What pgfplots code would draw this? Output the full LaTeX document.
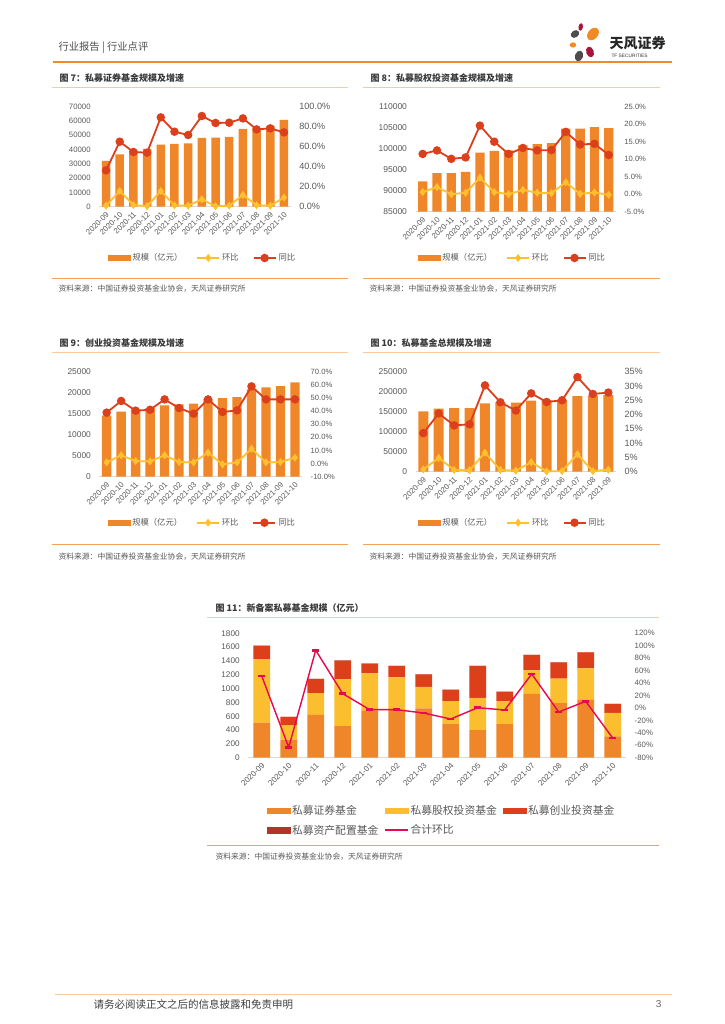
\documentclass[border=0pt]{standalone}
\usepackage{pgfplots}
\pgfplotsset{compat=1.18}
\usepackage{pgfplotstable}
\usepackage{fontspec}
\setmainfont{Liberation Sans}
\newfontfamily\cjk{Noto Sans CJK SC}

\definecolor{cOr}{HTML}{F0862A}
\definecolor{cYel}{HTML}{FFC02E}
\definecolor{cRed}{HTML}{DC3F1C}
\definecolor{cEq}{HTML}{FBBE2E}
\definecolor{cVc}{HTML}{DE3F1B}
\definecolor{cAa}{HTML}{B0352A}
\definecolor{cTot}{HTML}{E8084F}
\definecolor{tickc}{HTML}{595959}
\definecolor{titc}{HTML}{3A3A3A}
\definecolor{axc}{HTML}{D9D9D9}
\definecolor{lineLt}{HTML}{F9C99A}
\definecolor{lineOr}{HTML}{F4A25A}
\definecolor{hdrOr}{HTML}{F08A24}
\definecolor{logoGray}{HTML}{4D4D4D}
\definecolor{logoRed}{HTML}{A8153C}

\pgfplotsset{
  every axis/.append style={/pgf/number format/assume math mode=true,
    /pgf/number format/1000 sep={}, /pgf/number format/fixed, /pgf/number format/precision=0},
  baraxis/.style={scale only axis, anchor=south west,
    axis x line*=bottom, axis y line*=left,
    x axis line style={draw=axc,line width=0.8pt}, y axis line style={draw=none},
    major tick length=0pt, scaled y ticks=false,
    tick label style={text=tickc},
    yticklabel style={xshift=-5pt},
    xticklabel style={font=\fontsize{7.8}{9}\selectfont, xshift=4pt, yshift=-4pt, rotate=45, anchor=east}},
  lineaxis/.style={scale only axis, anchor=south west, axis x line=none,
    axis y line*=right, y axis line style={draw=none}, major tick length=0pt,
    tick label style={text=tickc}, yticklabel style={xshift=5pt}, clip=false,
    legend columns=3,
    legend image code/.code={\draw[mark repeat=2,mark phase=2,##1] plot coordinates {(0pt,0pt)(11pt,0pt)(22pt,0pt)};},
    legend style={draw=none, fill=none, font=\cjk\fontsize{8.3}{9}\selectfont, text=tickc,
      anchor=center, inner sep=0pt, /tikz/every even column/.append style={column sep=12pt}}},
}

\pgfplotstableread{
i v hb yoy
0 32000 1.0 36.3
1 36600 15.7 65.0
2 39500 1.7 54.7
3 40500 0.5 54.0
4 43400 15.7 89.3
5 43900 1.3 75.0
6 44300 1.0 71.7
7 48100 7.3 90.7
8 48300 0.5 83.7
9 48800 1.0 84.0
10 54400 11.7 88.3
11 55000 1.5 77.3
12 56500 1.0 78.3
13 60700 9.0 74.3
}\tabA

\pgfplotstableread{
i v hb yoy
0 92200 0.6 11.5
1 94200 2.0 12.5
2 94200 0.0 10.1
3 94500 0.4 10.5
4 99050 4.7 19.6
5 99450 0.6 15.0
6 99600 0.0 11.5
7 100800 1.2 13.2
8 101100 0.4 12.5
9 101350 0.3 12.6
10 104750 3.4 17.8
11 104750 0.1 14.2
12 105150 0.5 14.4
13 104900 -0.2 11.2
}\tabB

\pgfplotstableread{
i v hb yoy
0 14520 0.9 38.8
1 15480 6.3 47.7
2 16000 1.9 40.3
3 16300 1.7 41.0
4 16980 6.3 48.9
5 17220 1.2 42.3
6 17380 0.9 38.0
7 18500 8.3 48.9
8 18730 -0.6 39.3
9 18970 0.9 40.5
10 20800 11.3 58.8
11 21270 0.9 48.9
12 21590 1.2 48.9
13 22460 4.5 48.9
}\tabC

\pgfplotstableread{
i v hb yoy
0 150800 0.8 13.5
1 157500 4.8 20.4
2 159200 0.6 16.2
3 159200 0.5 16.6
4 170800 6.65 30.2
5 174000 0.6 24.3
6 172500 0.35 21.4
7 177500 3.3 27.4
8 179000 0.1 24.4
9 180000 0.2 25.0
10 189200 6.1 33.1
11 190800 0.2 27.2
12 191500 0.7 27.7
}\tabD

\pgfplotstableread{
i sec eq vc aa tot
0 507 917 193 3 51.4
1 261 212 116 2 -63.4
2 618 318 203 3 92.7
3 463 671 265 8 23.0
4 685 536 140 2 -2.8
5 690 473 164 3 -2.8
6 714 309 183 3 -8.2
7 492 328 164 2 -17.8
8 400 464 463 3 0.4
9 487 329 139 2 -3.3
10 922 342 222 3 54.6
11 791 353 236 3 -6.5
12 835 458 232 3 10.6
13 309 338 130 2 -48.4
}\tabE

\def\monthsA{2020-09,2020-10,2020-11,2020-12,2021-01,2021-02,2021-03,2021-04,2021-05,2021-06,2021-07,2021-08,2021-09,2021-10}
\def\monthsB{2020-09,2020-10,2020-11,2020-12,2021-01,2021-02,2021-03,2021-04,2021-05,2021-06,2021-07,2021-08,2021-09}
\def\src{资料来源：中国证券投资基金业协会，天风证券研究所}

\begin{document}
\begin{tikzpicture}
\useasboundingbox[fill=white] (0pt,0pt) rectangle (724pt,1024pt);

% header
\begin{scope}[x=1pt,y=1pt]
\node[anchor=west, font=\cjk\fontsize{10.3}{12}\selectfont, text=black!70] at (55,1024-48) {行业报告 \textbar{} 行业点评};
\draw[hdrOr, line width=1.2pt] (53,1024-62) -- (672,1024-62);
\fill[logoGray, rotate around={35:(575,1024-34)}] (575,1024-34) ellipse (4.5pt and 3.5pt);
\fill[logoRed, rotate around={-10:(580.7,1024-27)}] (580.7,1024-27) ellipse (2.2pt and 3.8pt);
\fill[hdrOr, rotate around={-40:(593,1024-34)}] (593,1024-34) ellipse (5pt and 7pt);
\fill[hdrOr] (573,1024-45) ellipse (3.2pt and 2.6pt);
\fill[logoGray, rotate around={-20:(579,1024-56)}] (579,1024-56) ellipse (4pt and 5.5pt);
\fill[logoRed, rotate around={20:(590,1024-52)}] (590,1024-52) ellipse (3.8pt and 5.5pt);
\node[anchor=west, font=\cjk\bfseries\fontsize{14}{15}\selectfont, text=black!85] at (606,1024-43) {天风证券};
\node[anchor=west, font=\fontsize{4.8}{5}\selectfont, text=black!80] at (608,1024-56) {TF SECURITIES};

% titles, rules, sources
\node[anchor=west, font=\cjk\bfseries\fontsize{9}{10}\selectfont, text=titc] at (56,1024-78.5) {图 7：私募证券基金规模及增速};
\node[anchor=west, font=\cjk\bfseries\fontsize{9}{10}\selectfont, text=titc] at (367,1024-78.5) {图 8：私募股权投资基金规模及增速};
\node[anchor=west, font=\cjk\bfseries\fontsize{9}{10}\selectfont, text=titc] at (56,1024-343.3) {图 9：创业投资基金规模及增速};
\node[anchor=west, font=\cjk\bfseries\fontsize{9}{10}\selectfont, text=titc] at (367,1024-343.3) {图 10：私募基金总规模及增速};
\node[anchor=west, font=\cjk\bfseries\fontsize{9}{10}\selectfont, text=titc] at (212,1024-608) {图 11：新备案私募基金规模（亿元）};
\draw[lineLt, line width=1.2pt] (52,1024-87.7) -- (348,1024-87.7);
\draw[lineLt, line width=1.2pt] (363,1024-87.7) -- (660,1024-87.7);
\draw[lineLt, line width=1.2pt] (52,1024-352.7) -- (348,1024-352.7);
\draw[lineLt, line width=1.2pt] (363,1024-352.7) -- (660,1024-352.7);
\draw[lineLt, line width=1.2pt] (207,1024-617.7) -- (659,1024-617.7);
\draw[lineOr, line width=1pt] (52,1024-278.3) -- (348,1024-278.3);
\draw[lineOr, line width=1pt] (363,1024-278.3) -- (660,1024-278.3);
\draw[lineOr, line width=1pt] (52,1024-545) -- (348,1024-545);
\draw[lineOr, line width=1pt] (363,1024-545) -- (660,1024-545);
\draw[lineOr, line width=1pt] (207,1024-846) -- (659,1024-846);
\node[anchor=west, font=\cjk\fontsize{7.8}{9}\selectfont, text=tickc] at (55,1024-289) {\src};
\node[anchor=west, font=\cjk\fontsize{7.8}{9}\selectfont, text=tickc] at (366,1024-289) {\src};
\node[anchor=west, font=\cjk\fontsize{7.8}{9}\selectfont, text=tickc] at (55,1024-557) {\src};
\node[anchor=west, font=\cjk\fontsize{7.8}{9}\selectfont, text=tickc] at (366,1024-557) {\src};
\node[anchor=west, font=\cjk\fontsize{7.8}{9}\selectfont, text=tickc] at (212,1024-857) {\src};

% footer
\draw[lineLt, line width=1pt] (55,1024-995) -- (672,1024-995);
\node[anchor=west, font=\cjk\fontsize{10.5}{12}\selectfont, text=black!75] at (90,1024-1004) {请务必阅读正文之后的信息披露和免责申明};
\node[anchor=east, font=\fontsize{10}{12}\selectfont, text=black!60] at (665,1024-1004) {3};
\end{scope}

% ---- chart 7
\begin{axis}[baraxis, ybar, at={(99.2pt,817.3pt)}, width=191.6pt, height=100pt,
  xmin=-0.5, xmax=13.5, ymin=0, ymax=70000, ytick={0,10000,...,70000},
  xtick={0,...,13}, xticklabels/.expand once=\monthsA, bar width=8.5pt,
  yticklabel style={font=\fontsize{7.8}{9}\selectfont}]
\addplot[fill=cOr, draw=none] table[x=i,y=v] {\tabA};
\end{axis}
\begin{axis}[lineaxis, at={(99.2pt,817.3pt)}, width=191.6pt, height=100pt,
  xmin=-0.5, xmax=13.5, ymin=0, ymax=100, ytick={0,20,40,60,80,100},
  yticklabels={0.0\%,20.0\%,40.0\%,60.0\%,80.0\%,100.0\%},
  yticklabel style={font=\fontsize{9.1}{10}\selectfont},
  legend style={at={(0.54,-0.513)}}]
\addlegendimage{legend image code/.code={\fill[cOr] (0pt,-2.6pt) rectangle (22pt,2.6pt);}}
\addlegendentry{规模（亿元）}
\addplot[cYel, line width=1.8pt, mark=diamond*, mark size=2.6pt] table[x=i,y=hb] {\tabA};
\addlegendentry{环比}
\addplot[cRed, line width=1.8pt, mark=*, mark size=3.3pt] table[x=i,y=yoy] {\tabA};
\addlegendentry{同比}
\end{axis}

% ---- chart 8
\begin{axis}[baraxis, ybar, at={(415.5pt,812.3pt)}, width=200.4pt, height=105pt,
  xmin=-0.5, xmax=13.5, ymin=85000, ymax=110000, ytick={85000,90000,...,110000},
  xtick={0,...,13}, xticklabels/.expand once=\monthsA, bar width=9.3pt,
  yticklabel style={font=\fontsize{8.5}{9}\selectfont}]
\addplot[fill=cOr, draw=none] table[x=i,y=v] {\tabB};
\end{axis}
\begin{axis}[lineaxis, at={(415.5pt,812.3pt)}, width=200.4pt, height=105pt,
  xmin=-0.5, xmax=13.5, ymin=-5, ymax=25, ytick={-5,0,5,10,15,20,25},
  yticklabels={-5.0\%,0.0\%,5.0\%,10.0\%,15.0\%,20.0\%,25.0\%},
  yticklabel style={font=\fontsize{7.6}{9}\selectfont},
  legend style={at={(0.484,-0.441)}}]
\addlegendimage{legend image code/.code={\fill[cOr] (0pt,-2.6pt) rectangle (22pt,2.6pt);}}
\addlegendentry{规模（亿元）}
\addplot[cYel, line width=1.8pt, mark=diamond*, mark size=2.6pt] table[x=i,y=hb] {\tabB};
\addlegendentry{环比}
\addplot[cRed, line width=1.8pt, mark=*, mark size=3.3pt] table[x=i,y=yoy] {\tabB};
\addlegendentry{同比}
\end{axis}

% ---- chart 9
\begin{axis}[baraxis, ybar, at={(99.4pt,547.3pt)}, width=202.8pt, height=105pt,
  xmin=-0.5, xmax=13.5, ymin=0, ymax=25000, ytick={0,5000,...,25000},
  xtick={0,...,13}, xticklabels/.expand once=\monthsA, bar width=9.3pt,
  yticklabel style={font=\fontsize{8.4}{9}\selectfont}]
\addplot[fill=cOr, draw=none] table[x=i,y=v] {\tabC};
\end{axis}
\begin{axis}[lineaxis, at={(99.4pt,547.3pt)}, width=202.8pt, height=105pt,
  xmin=-0.5, xmax=13.5, ymin=-10, ymax=70, ytick={-10,0,10,20,30,40,50,60,70},
  yticklabels={-10.0\%,0.0\%,10.0\%,20.0\%,30.0\%,40.0\%,50.0\%,60.0\%,70.0\%},
  yticklabel style={font=\fontsize{7.6}{9}\selectfont},
  legend style={at={(0.508,-0.438)}}]
\addlegendimage{legend image code/.code={\fill[cOr] (0pt,-2.6pt) rectangle (22pt,2.6pt);}}
\addlegendentry{规模（亿元）}
\addplot[cYel, line width=1.8pt, mark=diamond*, mark size=2.6pt] table[x=i,y=hb] {\tabC};
\addlegendentry{环比}
\addplot[cRed, line width=1.8pt, mark=*, mark size=3.3pt] table[x=i,y=yoy] {\tabC};
\addlegendentry{同比}
\end{axis}

% ---- chart 10
\begin{axis}[baraxis, ybar, at={(415.6pt,552.3pt)}, width=200.4pt, height=100pt,
  xmin=-0.5, xmax=12.5, ymin=0, ymax=250000, ytick={0,50000,...,250000},
  xtick={0,...,12}, xticklabels/.expand once=\monthsB, bar width=10pt,
  yticklabel style={font=\fontsize{8.5}{9}\selectfont}]
\addplot[fill=cOr, draw=none] table[x=i,y=v] {\tabD};
\end{axis}
\begin{axis}[lineaxis, at={(415.6pt,552.3pt)}, width=200.4pt, height=100pt,
  xmin=-0.5, xmax=12.5, ymin=0, ymax=35, ytick={0,5,10,15,20,25,30,35},
  yticklabels={0\%,5\%,10\%,15\%,20\%,25\%,30\%,35\%},
  yticklabel style={font=\fontsize{9.1}{10}\selectfont},
  legend style={at={(0.4835,-0.51)}}]
\addlegendimage{legend image code/.code={\fill[cOr] (0pt,-2.6pt) rectangle (22pt,2.6pt);}}
\addlegendentry{规模（亿元）}
\addplot[cYel, line width=1.8pt, mark=diamond*, mark size=2.6pt] table[x=i,y=hb] {\tabD};
\addlegendentry{环比}
\addplot[cRed, line width=1.8pt, mark=*, mark size=3.3pt] table[x=i,y=yoy] {\tabD};
\addlegendentry{同比}
\end{axis}

% ---- chart 11
\begin{axis}[baraxis, ybar stacked, at={(248.2pt,266.3pt)}, width=378pt, height=124.4pt,
  xmin=-0.5, xmax=13.5, ymin=0, ymax=1800, ytick={0,200,...,1800},
  xtick={0,...,13}, xticklabels/.expand once=\monthsA, bar width=16.7pt,
  xticklabel style={font=\fontsize{8}{9}\selectfont},
  yticklabel style={font=\fontsize{8.2}{9}\selectfont}]
\addplot[fill=cOr, draw=none] table[x=i,y=sec] {\tabE};
\addplot[fill=cEq, draw=none] table[x=i,y=eq] {\tabE};
\addplot[fill=cVc, draw=none] table[x=i,y=vc] {\tabE};
\addplot[fill=cAa, draw=none] table[x=i,y=aa] {\tabE};
\end{axis}
\begin{axis}[lineaxis, at={(248.2pt,266.3pt)}, width=378pt, height=124.4pt,
  xmin=-0.5, xmax=13.5, ymin=-80, ymax=120, ytick={-80,-60,-40,-20,0,20,40,60,80,100,120},
  yticklabels={-80\%,-60\%,-40\%,-20\%,0\%,20\%,40\%,60\%,80\%,100\%,120\%},
  yticklabel style={font=\fontsize{7.8}{9}\selectfont},
  legend cell align=left,
  legend image code/.code={\draw[mark repeat=2,mark phase=2,#1] plot coordinates {(0pt,0pt)(11.3pt,0pt)(22.7pt,0pt)};},
  legend style={at={(0.049,-0.364)}, anchor=north west, font=\cjk\fontsize{10.8}{12}\selectfont,
    row sep=5pt, /tikz/every even column/.append style={column sep=4pt}}]
\addlegendimage{legend image code/.code={\fill[cOr] (0pt,-2.8pt) rectangle (22.7pt,2.8pt);}}
\addlegendentry{私募证券基金}
\addlegendimage{legend image code/.code={\fill[cEq] (0pt,-2.8pt) rectangle (22.7pt,2.8pt);}}
\addlegendentry{私募股权投资基金}
\addlegendimage{legend image code/.code={\fill[cVc] (0pt,-2.8pt) rectangle (22.7pt,2.8pt);}}
\addlegendentry{私募创业投资基金}
\addlegendimage{legend image code/.code={\fill[cAa] (0pt,-2.8pt) rectangle (22.7pt,2.8pt);}}
\addlegendentry{私募资产配置基金}
\addplot[cTot, line width=1.4pt, mark=-, mark size=3.4pt, mark options={line width=2.6pt}] table[x=i,y=tot] {\tabE};
\addlegendentry{合计环比}
\end{axis}
\end{tikzpicture}
\end{document}
